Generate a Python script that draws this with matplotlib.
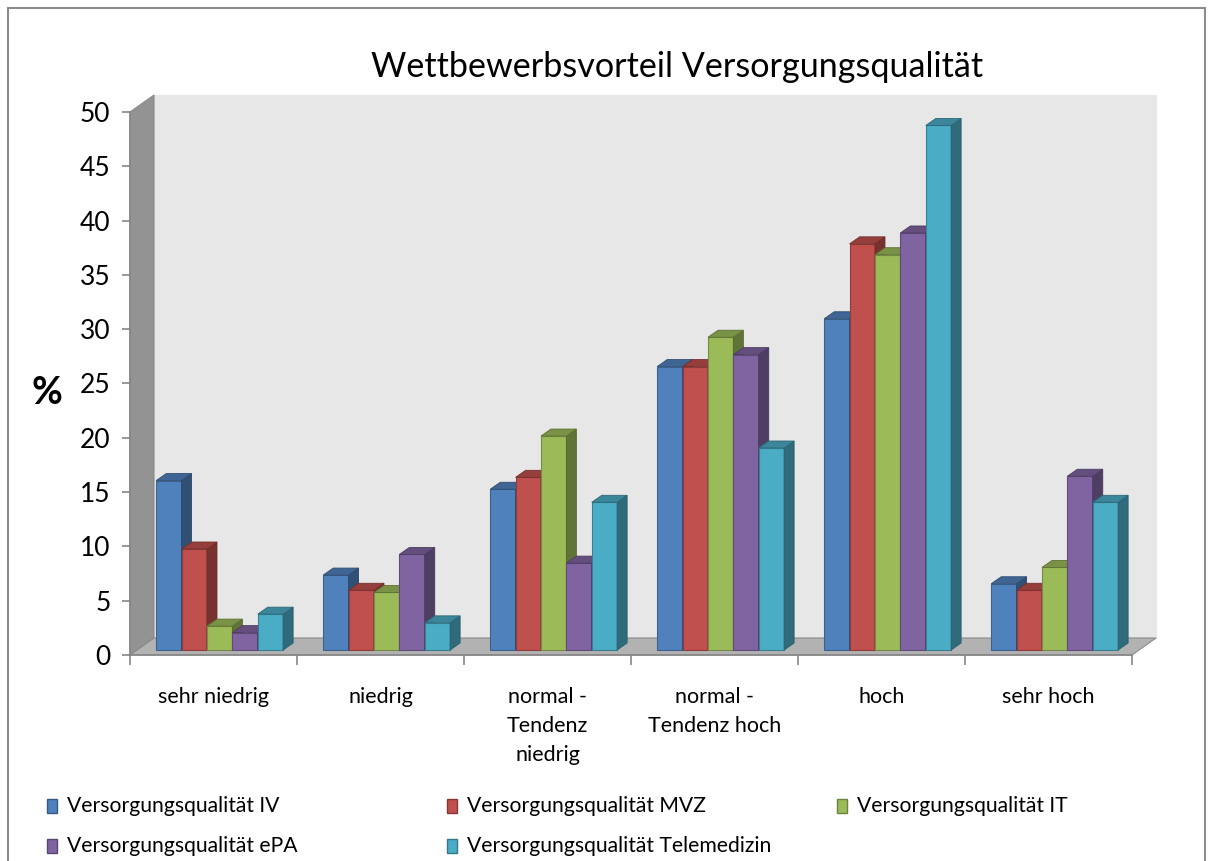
import matplotlib.pyplot as plt
import matplotlib.colors as mcolors
from matplotlib.patches import Polygon, Rectangle

plt.rcParams['font.family'] = ['Lato', 'DejaVu Sans']

categories = ['sehr niedrig', 'niedrig', 'normal -\nTendenz\nniedrig',
              'normal -\nTendenz hoch', 'hoch', 'sehr hoch']
series_names = ['Versorgungsqualität IV', 'Versorgungsqualität MVZ',
                'Versorgungsqualität IT', 'Versorgungsqualität ePA',
                'Versorgungsqualität Telemedizin']
iv = [15.6, 6.9, 14.8, 26.1, 30.5, 6.1]
mvz = [9.3, 5.5, 15.9, 26.1, 37.4, 5.5]
it = [2.2, 5.3, 19.7, 28.8, 36.4, 7.6]
epa = [1.6, 8.8, 8.0, 27.2, 38.4, 16.0]
tele = [3.3, 2.5, 13.6, 18.6, 48.3, 13.6]
values = [iv, mvz, it, epa, tele]
colors = ['#4F81BD', '#C0504D', '#9BBB59', '#8064A2', '#4BACC6']
y_ticks = list(range(0, 51, 5))


def shade(c, f):
    r, g, b = mcolors.to_rgb(c)
    return (r * f, g * f, b * f)


W, H = 1210, 861
fig = plt.figure(figsize=(W / 100, H / 100), dpi=100)
ax = fig.add_axes([130 / W, (H - 655) / H, 1002 / W, 543 / H])
ax.set_xlim(0, len(categories))
ax.set_ylim(0, 50)
ax.patch.set_visible(False)

# pixel -> data helpers for the fake 3d depth
px_x = len(categories) / 1002
px_y = 50 / 543
dx, dy = 24 * px_x, 17 * px_y          # wall depth
fx, fy = 7 * px_x, 5 * px_y            # bar front offset from front plane
bdx, bdy = 10 * px_x, 7 * px_y         # bar depth
n = len(categories)

# walls
wall_kw = dict(clip_on=False, lw=0.8)
ax.add_patch(Polygon([(dx, dy), (n + dx, dy), (n + dx, 50 + dy), (dx, 50 + dy)],
                     fc='#e7e7e7', ec='#e7e7e7', zorder=0, **wall_kw))
ax.add_patch(Polygon([(0, 0), (dx, dy), (dx, 50 + dy), (0, 50)],
                     fc='#939393', ec='#8a8a8a', zorder=1, **wall_kw))
ax.add_patch(Polygon([(0, 0), (n, 0), (n + dx, dy), (dx, dy)],
                     fc='#b2b2b2', ec='#8a8a8a', zorder=1, **wall_kw))

# bars
group_w = 0.76
bw = group_w / len(values)
x_start = (1 - group_w) / 2 + fx - 0.005
for i, (vals, col) in enumerate(zip(values, colors)):
    lefts = [k + x_start + i * bw for k in range(n)]
    z = 10 + 2 * i
    ax.bar(lefts, vals, width=bw, bottom=fy, align='edge', color=col,
           edgecolor=shade(col, 0.75), linewidth=0.8, zorder=z)
    for x0, v in zip(lefts, vals):
        yb, yt = fy, fy + v
        ax.add_patch(Polygon([(x0 + bw, yb), (x0 + bw + bdx, yb + bdy),
                              (x0 + bw + bdx, yt + bdy), (x0 + bw, yt)],
                             fc=shade(col, 0.62), ec=shade(col, 0.55), lw=0.6,
                             zorder=z + 1, clip_on=False))
        ax.add_patch(Polygon([(x0, yt), (x0 + bw, yt), (x0 + bw + bdx, yt + bdy),
                              (x0 + bdx, yt + bdy)],
                             fc=shade(col, 0.78), ec=shade(col, 0.6), lw=0.6,
                             zorder=z + 1, clip_on=False))

# axes styling
for s in ['top', 'right']:
    ax.spines[s].set_visible(False)
for s in ['left', 'bottom']:
    ax.spines[s].set_color('#868686')
    ax.spines[s].set_linewidth(1.2)
    ax.spines[s].set_zorder(2)

ax.set_yticks(y_ticks)
ax.tick_params(axis='y', direction='out', length=6, width=1.2, color='#868686',
               labelsize=19, pad=8, labelcolor='black')
ax.set_xticks(range(n + 1))
ax.set_xticklabels([])
ax.set_xticks([k + 0.5 for k in range(n)], minor=True)
ax.set_xticklabels(categories, minor=True, fontsize=15.5, linespacing=1.56,
                   va='top')
ax.tick_params(axis='x', which='major', direction='out', length=7, width=1.2,
               color='#868686')
ax.tick_params(axis='x', which='minor', length=0, pad=23)

fig.text(677 / W, 1 - 67 / H, 'Wettbewerbsvorteil Versorgungsqualität',
         fontsize=24.6, ha='center', va='center')
fig.text(47 / W, 1 - 393 / H, '%', fontsize=27, fontweight='bold',
         ha='center', va='center')

# legend
leg_pos = [(47, 806), (447, 806), (837, 806), (47, 846), (447, 846)]
for (lx, ly), name, col in zip(leg_pos, series_names, colors):
    fig.add_artist(Rectangle((lx / W, 1 - (ly + 7) / H), 10 / W, 14 / H,
                             transform=fig.transFigure, fc=col,
                             ec=shade(col, 0.7), lw=1))
    fig.text((lx + 20) / W, 1 - ly / H, name, fontsize=15.2, va='center',
             ha='left')

# outer frame
fig.add_artist(Rectangle((8 / W, -0.05), (1205 - 8) / W, 1.05 - 8 / H,
                         transform=fig.transFigure, fill=False,
                         ec='#8c8c8c', lw=1.5))

fig.savefig('out.png', dpi=100)
